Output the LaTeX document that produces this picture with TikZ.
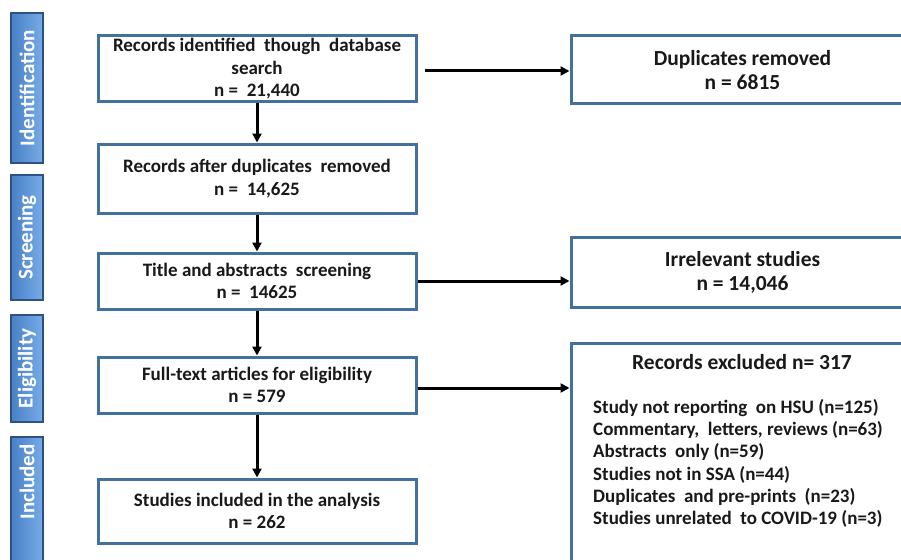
\documentclass[tikz,border=0pt]{standalone}
\usepackage{fontspec}
\setmainfont{Carlito}
\usepackage{tikz}
\usetikzlibrary{arrows.meta}
\definecolor{boxblue}{RGB}{65,113,156}
\definecolor{stagelight}{RGB}{120,172,232}
\definecolor{stagedark}{RGB}{72,128,198}
\definecolor{stageedge}{RGB}{45,82,130}
\definecolor{textdark}{RGB}{25,25,25}

\begin{document}
\begin{tikzpicture}[x=1pt,y=-1pt,
  box/.style={draw=boxblue,line width=3pt,fill=white,rectangle,inner sep=0pt,align=center,
    text=textdark,font=\bfseries\fontsize{19}{22.5}\selectfont},
  sidebox/.style={box,font=\bfseries\fontsize{21.5}{24}\selectfont},
  stage/.style={rectangle,rotate=90,draw=stageedge,line width=1.8pt,inner sep=0pt,
    left color=stagedark,right color=stagelight,text=white,minimum height=32pt,
    font=\bfseries\fontsize{21}{22}\selectfont},
  arr/.style={line width=3pt,-{Triangle[length=9pt,width=9pt]}}]
\clip (0,0) rectangle (901,559);
\fill[white] (0,0) rectangle (901,559);
% stages
\node[stage,minimum width=150pt] (ident) at (27,88) {Identification};
\node[stage,minimum width=125pt] (screen) at (27,237.5) {Screening};
\node[stage,minimum width=107pt] (elig) at (27,368.5) {Eligibility};
\node[stage,minimum width=130pt] (incl) at (27,502) {\hspace*{40pt}Included};
% main flow
\node[box,minimum width=318pt,minimum height=66pt] (found) at (257,69) {Records identified~ though~ database\\search\\n =~ 21,440};
\node[box,minimum width=318pt,minimum height=69pt] (nodup) at (257,178.5) {Records after duplicates~ removed\\n =~ 14,625};
\node[box,minimum width=318pt,minimum height=56pt] (title) at (257,281) {Title and abstracts~ screening\\n =~ 14625};
\node[box,minimum width=318pt,minimum height=56pt] (full) at (257,385) {Full-text articles for eligibility\\n = 579};
\node[box,minimum width=318pt,minimum height=64pt] (incl2) at (257,511) {Studies included in the analysis\\n = 262};
% exclusions
\node[sidebox,minimum width=343pt,minimum height=68pt] (dup) at (742.5,70) {Duplicates removed\\n = 6815};
\node[sidebox,minimum width=343pt,minimum height=70pt] (irr) at (742.5,272) {Irrelevant studies\\n = 14,046};
\node[sidebox,minimum width=343pt,minimum height=250pt,anchor=north] (excl) at (742.5,342) {};
\node[anchor=center,text=textdark,font=\bfseries\fontsize{21.5}{24}\selectfont] (exhead) at (742,362) {Records excluded n= 317};
\node[anchor=north west,align=left,inner sep=0pt,text=textdark,font=\bfseries\fontsize{19}{22.3}\selectfont] (exlist) at (593,399) {Study not reporting~ on HSU (n=125)\\Commentary,~ letters, reviews (n=63)\\Abstracts~ only (n=59)\\Studies not in SSA (n=44)\\Duplicates~ and pre-prints~ (n=23)\\Studies unrelated~ to COVID-19 (n=3)};
% arrows
\draw[arr] (found.south) -- (nodup.north);
\draw[arr] (nodup.south) -- (title.north);
\draw[arr] (title.south) -- (full.north);
\draw[arr] (full.south) -- (incl2.north);
\draw[arr] ([xshift=7pt,yshift=-2pt]found.east) -- ([yshift=-2pt]found.east -| dup.west);
\draw[arr] (title.east) -- (title.east -| irr.west);
\draw[arr] ([yshift=-3pt]full.east) -- ([yshift=-3pt]full.east -| excl.west);
\end{tikzpicture}
\end{document}
